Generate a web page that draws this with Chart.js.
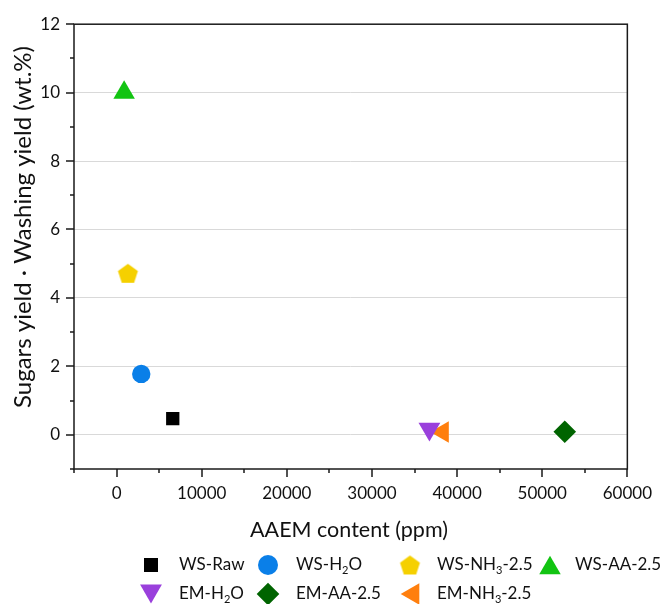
<!DOCTYPE html>
<html lang="en">
<head>
<meta charset="UTF-8">
<title>Sugars yield vs AAEM content</title>
<script src="https://cdn.jsdelivr.net/npm/chart.js"></script>
<style>
    html, body { margin: 0; padding: 0; background: #fff; }
    .wrap { width: 666px; height: 604px; position: relative; }
</style>
</head>
<body>
<div class="wrap"><canvas id="yieldChart"></canvas></div>
<script>
    // Samples, AAEM content (ppm) and sugars yield x washing yield (wt.%)
    const sampleNames = ['WS-Raw', 'WS-H\u2082O', 'WS-NH\u2083-2.5', 'WS-AA-2.5', 'EM-H\u2082O', 'EM-AA-2.5', 'EM-NH\u2083-2.5'];
    const aaemContent = [6600, 2900, 1330, 890, 36750, 52650, 38300];
    const sugarsYield = [0.47, 1.78, 4.72, 10.0, 0.17, 0.09, 0.08];
    const xTicks = [0, 10000, 20000, 30000, 40000, 50000, 60000];
    const yTicks = [0, 2, 4, 6, 8, 10, 12];
    const xTitle = 'AAEM content (ppm)';
    const yTitle = 'Sugars yield \u00b7 Washing yield (wt.%)';

    const FONT = "Lato, 'Open Sans', sans-serif";
    const INK = '#111111';

    // Pentagon marker, the library has no built-in one
    function makePentagon(r, color) {
        const size = Math.ceil(r * 2) + 2;
        const c = document.createElement('canvas');
        c.width = size; c.height = size;
        const g = c.getContext('2d');
        g.fillStyle = color;
        g.beginPath();
        for (let i = 0; i < 5; i++) {
            const a = -Math.PI / 2 + i * 2 * Math.PI / 5;
            const px = size / 2 + r * Math.cos(a);
            const py = size / 2 + 0.9 + r * Math.sin(a);
            if (i === 0) g.moveTo(px, py); else g.lineTo(px, py);
        }
        g.closePath();
        g.fill();
        return c;
    }

    const markers = [
        { style: 'rect', radius: 9.4, rotation: 0, color: '#000000' },
        { style: 'circle', radius: 9.2, rotation: 0, color: '#0a7fe8' },
        { style: makePentagon(10.5, '#f5d000'), radius: 10.5, rotation: 0, color: '#f5d000' },
        { style: 'triangle', radius: 12.4, rotation: 0, color: '#12c412' },
        { style: 'triangle', radius: 12.6, rotation: 180, color: '#9a40dc' },
        { style: 'rectRot', radius: 11.3, rotation: 0, color: '#006400' },
        { style: 'triangle', radius: 12.4, rotation: -90, color: '#ff7f0e' }
    ];

    const datasets = sampleNames.map((name, i) => ({
        label: name,
        data: [{ x: aaemContent[i], y: sugarsYield[i] }],
        pointStyle: markers[i].style,
        pointRadius: markers[i].radius,
        pointRotation: markers[i].rotation,
        pointBackgroundColor: markers[i].color,
        pointBorderWidth: 0,
        pointHoverRadius: markers[i].radius
    }));

    // Draws text, turning unicode subscript digits into smaller lowered glyphs
    const SUBS = { '\u2080': '0', '\u2081': '1', '\u2082': '2', '\u2083': '3', '\u2084': '4' };
    function drawRichText(ctx, text, x, y, size) {
        let cx = x;
        for (const ch of text) {
            if (SUBS[ch]) {
                ctx.font = (size * 0.65) + 'px ' + FONT;
                ctx.fillText(SUBS[ch], cx, y + size * 0.3);
                cx += ctx.measureText(SUBS[ch]).width;
            } else {
                ctx.font = size + 'px ' + FONT;
                ctx.fillText(ch, cx, y);
                cx += ctx.measureText(ch).width;
            }
        }
    }

    // Sets a font size that makes the text span the given length
    function fitFont(ctx, text, length) {
        ctx.font = '20px ' + FONT;
        const size = 20 * length / ctx.measureText(text).width;
        ctx.font = size.toFixed(2) + 'px ' + FONT;
    }

    const frameAndLegend = {
        id: 'frameAndLegend',
        afterDraw(chart) {
            const { ctx, chartArea: a, scales } = chart;
            ctx.save();
            ctx.strokeStyle = '#1a1a1a';
            ctx.lineWidth = 1.5;
            ctx.strokeRect(a.left, a.top, a.right - a.left, a.bottom - a.top);

            // tick marks: long at labelled values, short in between
            ctx.beginPath();
            for (let v = -5000; v <= 60000; v += 5000) {
                const px = Math.round(scales.x.getPixelForValue(v));
                const len = v % 10000 === 0 ? 8 : 4;
                ctx.moveTo(px, a.bottom);
                ctx.lineTo(px, a.bottom + len);
            }
            for (let v = -1; v <= 12; v++) {
                const py = Math.round(scales.y.getPixelForValue(v));
                const len = v % 2 === 0 ? 8 : 4;
                ctx.moveTo(a.left, py);
                ctx.lineTo(a.left - len, py);
            }
            ctx.stroke();

            // axis titles
            ctx.fillStyle = INK;
            ctx.textAlign = 'center';
            ctx.textBaseline = 'middle';
            fitFont(ctx, xTitle, 198);
            ctx.fillText(xTitle, 349, 530);
            ctx.save();
            ctx.translate(23, 227);
            ctx.rotate(-Math.PI / 2);
            fitFont(ctx, yTitle, 362);
            ctx.fillText(yTitle, 0, 0);
            ctx.restore();

            // legend grid, 4 columns; triangles are centred on their bounding box
            const colMarker = [151, 268, 410, 550];
            const colText = [179, 296, 437, 575];
            const rowY = [565, 594];
            ctx.textAlign = 'left';
            sampleNames.forEach((name, i) => {
                const col = i % 4, row = Math.floor(i / 4);
                const m = markers[i];
                let mx = colMarker[col], my = rowY[row], r = m.radius;
                if (m.style === 'rect') r = 9.9;
                if (m.style === 'circle') r = 10;
                if (m.style === 'triangle') {
                    const t = m.rotation * Math.PI / 180;
                    mx -= Math.sin(t) * 0.25 * r;
                    my += Math.cos(t) * 0.25 * r;
                }
                ctx.fillStyle = m.color;
                Chart.helpers.drawPoint(ctx, { pointStyle: m.style, radius: r, rotation: m.rotation, borderWidth: 0 }, mx, my);
                ctx.fillStyle = INK;
                drawRichText(ctx, name, colText[col], rowY[row], 17);
            });
            ctx.restore();
        }
    };

    new Chart(document.getElementById('yieldChart'), {
        type: 'scatter',
        data: { datasets },
        plugins: [frameAndLegend],
        options: {
            responsive: true,
            maintainAspectRatio: false,
            animation: false,
            layout: { padding: { top: 22, right: 38, left: 0, bottom: 0 } },
            plugins: { legend: { display: false }, tooltip: { enabled: false } },
            scales: {
                x: {
                    type: 'linear',
                    min: -5000,
                    max: 60000,
                    afterBuildTicks: s => { s.ticks = xTicks.map(v => ({ value: v })); },
                    afterFit: s => { s.height = 135; },
                    grid: { display: false, drawTicks: false },
                    border: { display: false },
                    ticks: { color: INK, padding: 14, font: { family: FONT, size: 17 }, maxRotation: 0, autoSkip: false, callback: v => String(v) }
                },
                y: {
                    min: -1,
                    max: 12,
                    afterBuildTicks: s => { s.ticks = yTicks.map(v => ({ value: v })); },
                    afterFit: s => { s.width = 74; },
                    grid: { color: ctx => (ctx.tick && ctx.tick.value < 12 ? '#d9d9d9' : 'transparent'), lineWidth: 1, drawTicks: false },
                    border: { display: false },
                    ticks: { color: INK, padding: 14, font: { family: FONT, size: 17 }, autoSkip: false, callback: v => String(v) }
                }
            }
        }
    });
</script>
</body>
</html>
